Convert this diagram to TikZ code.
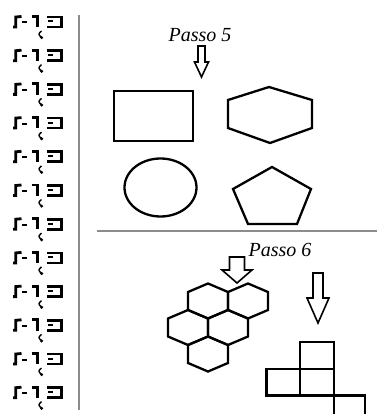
\documentclass[tikz,border=0pt]{standalone}
\usepackage{fontspec}
\setmainfont{Liberation Serif}

\begin{document}
\begin{tikzpicture}[x=1pt, y=-1pt,
    shapeline/.style={line width=2.3pt, line join=miter},
    blockarrow/.style={line width=1.6pt, line join=miter},
    glyph/.style={line width=2.8pt, line join=miter},
    ruleline/.style={black!45, line width=1.4pt},
    passo/.style={font=\fontsize{20}{24}\selectfont\itshape, anchor=base, inner sep=0pt}]
                \clip (0,0) rectangle (377,414);

                % decorative border on the left
                \foreach \i in {0,...,11}{
                    \pgfmathsetmacro\yc{22+33.7*\i}
                    \draw[glyph] (13.2,\yc+5) -- (15.8,\yc+5) -- (15.8,\yc-5) -- (21.5,\yc-5.5);
                    \draw[line width=2pt] (22,\yc+0.5) -- (26.5,\yc+0.5);
                    \draw[glyph] (32,\yc-5.5) -- (37.5,\yc-5.5) -- (37.5,\yc+5.2);
                    \draw[glyph] (47,\yc-5) -- (61.5,\yc-5) -- (61.5,\yc+5) -- (47,\yc+5);
                    \draw[line width=2pt] (48,\yc-0.5) -- (53,\yc-0.5);
                    \draw[line width=1.4pt] (41.5,\yc+9) .. controls (38.3,\yc+12) .. (40.8,\yc+15);
                    \fill (41.6,\yc+15.6) circle (1.7);
                }

                \coordinate (vtop) at (79,15);
                \coordinate (vbot) at (79,410);
                \coordinate (hleft) at (97,231);
                \coordinate (hright) at (377,231);
                \draw[ruleline] (vtop) -- (vbot);
                \draw[ruleline] (hleft) -- (hright);

                % Passo 5
                \node[passo] (passoA) at (200,42) {Passo 5};
                \draw[blockarrow] (198,46) -- (205,46) -- (205,62) -- (208.5,62) -- (201.5,77)
                    -- (194.5,62) -- (198,62) -- cycle;

                \draw[shapeline] (114,91) rectangle (193,141);
                \draw[shapeline] (269,87) -- (312,100) -- (312,128) -- (270,143) -- (228,128) -- (228,100) -- cycle;
                \draw[shapeline] (160.5,187.5) ellipse [x radius=36, y radius=29];
                \draw[shapeline] (272,167) -- (311,189) -- (297,224) -- (248,224) -- (233,189) -- cycle;

                % Passo 6
                \node[passo] (passoB) at (280,256) {Passo 6};
                \draw[blockarrow] (229.5,257) -- (244.5,257) -- (244.5,270) -- (252,270) -- (237,283)
                    -- (222,270) -- (229.5,270) -- cycle;
                \draw[blockarrow] (313,273) -- (323,273) -- (323,298) -- (329,298) -- (318,323)
                    -- (307,298) -- (313,298) -- cycle;

                \foreach \cx/\cy in {208/301, 248/301, 188/327.5, 228/327.5, 208/354}{
                    \draw[shapeline] (\cx,\cy-17.5) -- (\cx+20,\cy-9) -- (\cx+20,\cy+9) -- (\cx,\cy+17.5)
                        -- (\cx-20,\cy+9) -- (\cx-20,\cy-9) -- cycle;
                }

                \draw[shapeline] (300,342) rectangle (334,369);
                \draw[shapeline] (266.5,369) rectangle (300,395.5);
                \draw[shapeline] (300,369) rectangle (334,395.5);
                \draw[shapeline] (334,395.5) rectangle (365,424);
            \end{tikzpicture}
\end{document}
